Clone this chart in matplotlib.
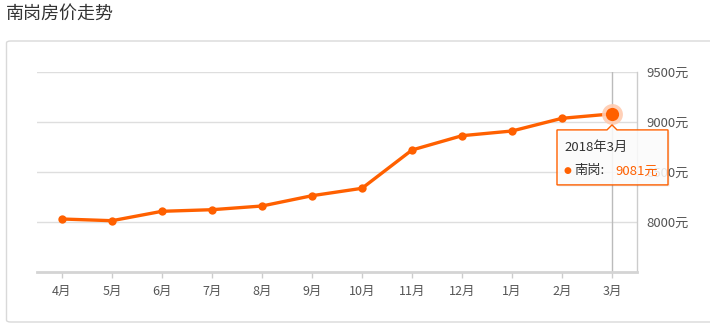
import matplotlib
matplotlib.use("Agg")
import matplotlib.pyplot as plt
from matplotlib.patches import FancyBboxPatch, Polygon
from matplotlib.transforms import IdentityTransform

plt.rcParams['font.family'] = ['Noto Sans CJK SC', 'DejaVu Sans']

title = "南岗房价走势"
series_name = "南岗"
months = ["4月", "5月", "6月", "7月", "8月", "9月", "10月", "11月", "12月", "1月", "2月", "3月"]
prices = [8030, 8013, 8107, 8123, 8160, 8263, 8337, 8720, 8863, 8910, 9037, 9081]
yticks = [8000, 8500, 9000, 9500]
tooltip_label = "2018年3月"

W, H = 710, 330
fig = plt.figure(figsize=(W / 100, H / 100), dpi=100)
fig.patch.set_facecolor("white")

def fx(x):
    return x / W

def fy(y):
    return 1 - y / H

# outer frame
frame = FancyBboxPatch((fx(6.5), fy(322)), fx(720) - fx(6.5), fy(41) - fy(322),
                       boxstyle="round,pad=0,rounding_size=0.006",
                       transform=fig.transFigure, facecolor="white",
                       edgecolor="#d9d9d9", linewidth=1.0, clip_on=False, zorder=-5)
fig.patches.append(frame)

fig.text(fx(6), fy(14), title, fontsize=13, color="#333333", va="center", ha="left")

ax = fig.add_axes([fx(37), fy(272), fx(637) - fx(37), fy(72) - fy(272)])
ax.set_zorder(2)
ax.set_facecolor("none")
x = list(range(len(months)))
orange = "#ff6000"

ax.set_xlim(-0.5, len(months) - 0.5)
ax.set_ylim(7500, 9500)
for v in yticks:
    ax.axhline(v, color="#dedede", linewidth=1.0, zorder=1)

ax.plot(x, prices, color=orange, linewidth=2.4, marker="o", markersize=6,
        markeredgewidth=0, zorder=3, solid_capstyle="round")

# crosshair on last point
ax.axvline(x[-1], color="#bbbbbb", linewidth=1.0, zorder=2)
# highlighted last point
ax.plot([x[-1]], [prices[-1]], marker="o", markersize=15, color="#ffcbb0",
        markeredgewidth=0, zorder=4, alpha=0.9)
ax.plot([x[-1]], [prices[-1]], marker="o", markersize=9.5, color=orange,
        markeredgewidth=0, zorder=5)

for s in ["top", "left"]:
    ax.spines[s].set_visible(False)
ax.spines["right"].set_color("#cccccc")
ax.spines["right"].set_linewidth(1.0)
ax.spines["bottom"].set_color("#d4d4d4")
ax.spines["bottom"].set_linewidth(2.0)

ax.set_xticks(x)
ax.set_xticklabels(months, fontsize=9, color="#555555")
ax.tick_params(axis="x", length=4, width=1, color="#cccccc", pad=5)
ax.yaxis.tick_right()
ax.set_yticks(yticks)
ax.set_yticklabels([f"{v}元" for v in yticks], fontsize=9.5, color="#555555")
ax.tick_params(axis="y", length=0, pad=7)

# tooltip
fig.canvas.draw()
px, py = ax.transData.transform((x[-1], prices[-1]))
left, right = px - 55, px + 56
top, bottom = py - 16, py - 71
apex = py - 11
verts = [(left, top), (px - 5, top), (px, apex), (px + 5, top), (right, top),
         (right, bottom), (left, bottom)]
shadow = Polygon([(vx + 1.5, vy - 1.5) for vx, vy in verts], closed=True,
                 transform=IdentityTransform(), facecolor="#00000014",
                 edgecolor="none", zorder=9)
tip = Polygon(verts, closed=True, transform=IdentityTransform(),
              facecolor=(1, 1, 1, 0.85), edgecolor=orange, linewidth=1.0, zorder=10)
fig.artists.append(shadow)
fig.artists.append(tip)
fig.text((left + 7) / W, (py - 34) / H, tooltip_label, fontsize=9.5, color="#333333",
         va="center", ha="left", zorder=11)
fig.text((left + 7) / W, (py - 57) / H, "●", fontsize=6.5, color=orange,
         va="center", ha="left", zorder=11, family=["DejaVu Sans"])
fig.text((left + 17) / W, (py - 57) / H, f"{series_name}:", fontsize=9.5, color="#333333",
         va="center", ha="left", zorder=11)
fig.text((left + 58) / W, (py - 57) / H, f"{prices[-1]}元", fontsize=9.5, color=orange,
         va="center", ha="left", zorder=11)

fig.savefig("out.png", dpi=100)
